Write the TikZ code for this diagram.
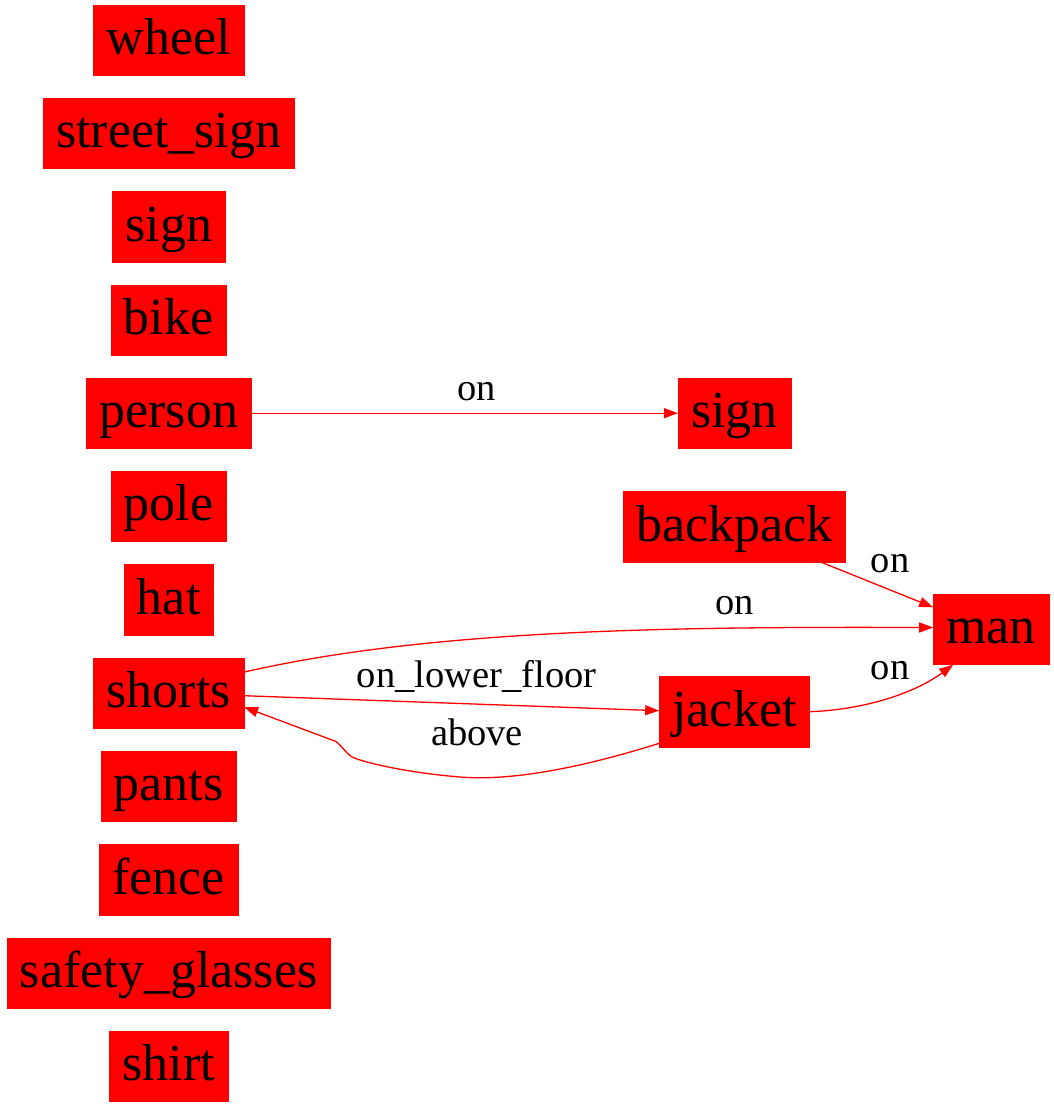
\documentclass[tikz,border=0pt]{standalone}
\usepackage{fontspec}
\setmainfont{LiberationSerif}[Extension=.ttf, UprightFont=*-Regular, BoldFont=*-Bold, ItalicFont=*-Italic]
\usetikzlibrary{arrows.meta,calc}
\tikzset{
  box/.style={fill=red, draw=red, line width=0.5pt, inner xsep=13pt, inner ysep=0pt,
    minimum height=70.3pt, text height=40pt, text depth=11.2pt,
    font=\fontsize{52}{60}\selectfont},
  lbl/.style={anchor=base, inner sep=0pt, font=\fontsize{38.5}{44}\selectfont},
  edge/.style={draw=red, line width=1.3pt, -{Triangle[length=14pt,width=10pt]}}
}
\begin{document}
\begin{tikzpicture}[x=1pt,y=-1pt]
\useasboundingbox (0,0) rectangle (1053,1107);
% left column
\node[box] (wheel) at (168.7,40) {wheel};
\node[box] (streetsign) at (168.7,133.3) {street\_sign};
\node[box] (sign) at (168.7,226.6) {sign};
\node[box] (bike) at (168.7,319.9) {bike};
\node[box] (person) at (168.7,413.2) {person};
\node[box] (pole) at (168.7,506.5) {pole};
\node[box] (hat) at (168.7,599.8) {hat};
\node[box] (shorts) at (168.7,693.1) {shorts};
\node[box] (pants) at (168.7,786.4) {pants};
\node[box] (fence) at (168.7,879.7) {fence};
\node[box] (glasses) at (168.7,973) {safety\_glasses};
\node[box] (shirt) at (168.7,1066.3) {shirt};
% right part
\node[box] (signb) at (734.5,413.2) {sign};
\node[box] (backpack) at (734.5,526.7) {backpack};
\node[box] (man) at (991.2,629.3) {man};
\node[box] (jacket) at (734.5,711.7) {jacket};
% edges
\draw[edge] (person.east) -- (signb.west);
\draw[edge] ($(backpack.south east)+(-25,0)$) -- ($(man.west)+(0,-22)$);
\draw[edge] ($(shorts.east)+(0,-21)$) .. controls (440,627) and (700,627) .. ($(man.west)+(0,-1.8)$);
\draw[edge] ($(shorts.east)+(0,2.6)$) -- ($(jacket.west)+(0,-1)$);
\draw[edge] (jacket.east) .. controls (860,710) and (912,695) .. ($(man.south)+(-38,0)$);
\draw[edge] ($(jacket.west)+(0,31.6)$) .. controls (600,762) and (520,782) .. (460,777)
  .. controls (410,773) and (365,763) .. (352,757)
  .. controls (345,752) and (341,745) .. (336,741.5)
  -- ($(shorts.east)+(0,14)$);
% labels
\node[lbl] (l1) at (476.7,400.7) {on};
\node[lbl] (l2) at (890,572.3) {on};
\node[lbl] (l3) at (734.6,614) {on};
\node[lbl] (l4) at (476.7,687) {on\_lower\_floor};
\node[lbl] (l5) at (890,679) {on};
\node[lbl] (l6) at (477,745) {above};
\end{tikzpicture}
\end{document}
